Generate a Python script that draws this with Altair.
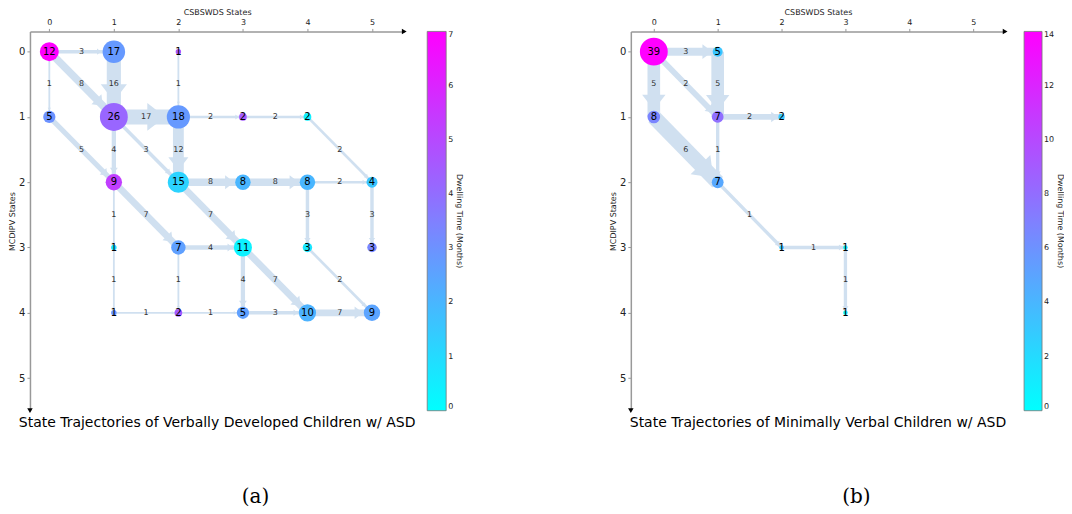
import math
import altair as alt
import pandas as pd

# ---------------- Panel (a): verbally developed ----------------
a_node_x = [0, 1, 2, 0, 1, 2, 3, 4, 1, 2, 3, 4, 5, 1, 2, 3, 4, 5, 1, 2, 3, 4, 5]
a_node_y = [0, 0, 0, 1, 1, 1, 1, 1, 2, 2, 2, 2, 2, 3, 3, 3, 3, 3, 4, 4, 4, 4, 4]
a_node_count = [12, 17, 1, 5, 26, 18, 2, 2, 9, 15, 8, 8, 4, 1, 7, 11, 3, 3, 1, 2, 5, 10, 9]
a_node_dwell = [7.0, 2.8, 4.6, 3.0, 4.2, 2.8, 4.5, 0.4, 5.3, 1.2, 2.0, 2.0, 1.6,
                0.85, 2.6, 0.35, 0.7, 3.3, 2.9, 4.5, 2.6, 2.1, 2.5]

a_edge_from_x = [0, 0, 0, 1, 2, 1, 2, 3, 4, 0, 1, 1, 2, 2, 3, 4, 1, 1, 2, 4, 5, 2, 1, 2, 3, 3, 4, 1, 2, 3, 4]
a_edge_from_y = [0, 0, 0, 0, 0, 1, 1, 1, 1, 1, 1, 1, 1, 2, 2, 2, 2, 2, 2, 2, 2, 3, 3, 3, 3, 3, 3, 4, 4, 4, 4]
a_edge_to_x = [1, 0, 1, 1, 2, 2, 3, 4, 5, 1, 1, 2, 2, 3, 4, 5, 1, 2, 3, 4, 5, 3, 1, 2, 3, 4, 5, 2, 3, 4, 5]
a_edge_to_y = [0, 1, 1, 1, 1, 1, 1, 1, 2, 2, 2, 2, 2, 2, 2, 2, 3, 3, 3, 3, 3, 3, 4, 4, 4, 4, 4, 4, 4, 4, 4]
a_edge_weight = [3, 1, 8, 16, 1, 17, 2, 2, 2, 5, 4, 3, 12, 8, 8, 2, 1, 7, 7, 3, 3, 4, 1, 1, 4, 7, 2, 1, 1, 3, 7]

# ---------------- Panel (b): minimally verbal ----------------
b_node_x = [0, 1, 0, 1, 2, 1, 2, 3, 3]
b_node_y = [0, 0, 1, 1, 1, 2, 3, 3, 4]
b_node_count = [39, 5, 8, 7, 2, 7, 1, 1, 1]
b_node_dwell = [14.0, 3.2, 6.7, 7.9, 3.0, 4.8, 3.0, 1.0, 1.0]

b_edge_from_x = [0, 0, 0, 1, 1, 0, 1, 1, 2, 3]
b_edge_from_y = [0, 0, 0, 0, 1, 1, 1, 2, 3, 3]
b_edge_to_x = [1, 0, 1, 1, 2, 1, 1, 2, 3, 3]
b_edge_to_y = [0, 1, 1, 1, 1, 2, 2, 3, 3, 4]
b_edge_weight = [3, 5, 2, 5, 2, 6, 1, 1, 1, 1]

TICKS = [0, 1, 2, 3, 4, 5]
EDGE_COLOR = "#d0e0f0"
FONT = "DejaVu Sans"
W, H = 375, 380
Y_DOM = [-0.31, 5.5]
MAX_NODE_AREA = 780
SW_MIN, SW_MAX = 1.0, 15.0
HEAD_PATH = "M-0.65,-1L0.65,0L-0.65,1Z"
IND = dict(color="independent", size="independent", strokeWidth="independent")


def build_frames(nx, ny, nc, nd, fx, fy, tx, ty, ew, xdom):
    nodes = pd.DataFrame({"x": nx, "y": ny, "count": nc, "dwell": nd})
    cmax = max(nc)
    wmax = max(ew)
    px = W / (xdom[1] - xdom[0])
    py = H / (Y_DOM[1] - Y_DOM[0])
    cnt = {(a, b): c for a, b, c in zip(nx, ny, nc)}
    rows = []
    for x1, y1, x2, y2, w in zip(fx, fy, tx, ty, ew):
        dxp = (x2 - x1) * px
        dyp = (y2 - y1) * py
        L = math.hypot(dxp, dyp)
        ux, uy = dxp / L, dyp / L
        sw = SW_MIN + (SW_MAX - SW_MIN) * w / wmax
        hw = 1.85 * sw
        hl = 1.2 * sw
        r = math.sqrt(MAX_NODE_AREA * cnt[(x2, y2)] / cmax / math.pi)
        d = r + hl / 2
        rows.append({
            "x1": x1, "y1": y1, "x2": x2, "y2": y2, "w": w,
            "hx": x2 - ux * d / px, "hy": y2 - uy * d / py,
            "ang": math.degrees(math.atan2(dyp, dxp)) % 360,
            "hs": hw * hw,
        })
    return nodes, pd.DataFrame(rows), cmax, wmax


def panel(nodes, edges, cmax, wmax, dmax, dstep, xdom, caption, leg_offset, leg_thick):
    xs = alt.Scale(domain=xdom, nice=False, zero=False)
    ys = alt.Scale(domain=Y_DOM, nice=False, zero=False, reverse=True)
    xaxis = alt.Axis(orient="top", values=TICKS, format="d", title="CSBSWDS States", grid=False,
                     labelFontSize=8, titleFontSize=8, titleFontWeight="normal",
                     domainColor="#999999", domainWidth=1.5, tickColor="#999999",
                     tickSize=3, labelPadding=2, titlePadding=2, labelColor="#222",
                     titleColor="#222", labelFlush=False)
    yaxis = alt.Axis(orient="left", values=TICKS, format="d", title="MCDIPV States", grid=False,
                     labelFontSize=10, titleFontSize=8, titleFontWeight="normal",
                     domainColor="#999999", domainWidth=1.5, tickColor="#999999",
                     tickSize=3, labelPadding=2, titlePadding=2, labelColor="#222",
                     titleColor="#222", labelFlush=False)

    be = alt.Chart(edges)
    rules = be.mark_rule(color=EDGE_COLOR, strokeCap="butt").encode(
        x=alt.X("x1:Q", scale=xs, axis=xaxis),
        y=alt.Y("y1:Q", scale=ys, axis=yaxis),
        x2="x2:Q", y2="y2:Q",
        strokeWidth=alt.StrokeWidth("w:Q", scale=alt.Scale(domain=[0, wmax], range=[SW_MIN, SW_MAX]),
                                    legend=None),
    )
    heads = be.mark_point(shape=HEAD_PATH, filled=True, color=EDGE_COLOR, opacity=1,
                          strokeWidth=0).encode(
        x=alt.X("hx:Q", scale=xs), y=alt.Y("hy:Q", scale=ys),
        angle=alt.Angle("ang:Q", scale=None),
        size=alt.Size("hs:Q", scale=None),
    )
    elabels = be.transform_calculate(
        mx="(datum.x1 + datum.x2) / 2", my="(datum.y1 + datum.y2) / 2"
    ).mark_text(fontSize=8, color="#333333", font=FONT).encode(
        x=alt.X("mx:Q", scale=xs), y=alt.Y("my:Q", scale=ys), text="w:Q")

    bn = alt.Chart(nodes)
    circles = bn.mark_circle(opacity=1).encode(
        x=alt.X("x:Q", scale=xs), y=alt.Y("y:Q", scale=ys),
        size=alt.Size("count:Q", scale=alt.Scale(domain=[0, cmax], range=[0, MAX_NODE_AREA]),
                      legend=None),
        color=alt.Color("dwell:Q",
                        scale=alt.Scale(domain=[0, dmax], range=["#00ffff", "#ff00ff"],
                                        interpolate="rgb"),
                        legend=alt.Legend(title="Dwelling Time (Months)", orient="right",
                                          direction="vertical", gradientLength=H,
                                          gradientThickness=leg_thick, offset=leg_offset,
                                          titleOrient="right",
                                          titleAnchor="middle", titleFontSize=8,
                                          titleFontWeight="normal", titleColor="#222",
                                          labelFontSize=8, labelColor="#222",
                                          values=list(range(0, dmax + 1, dstep)),
                                          gradientStrokeColor="#777777",
                                          gradientStrokeWidth=0.8, titlePadding=2,
                                          labelOffset=2)),
    )
    nlabels = bn.mark_text(fontSize=10, color="black", font=FONT).encode(
        x=alt.X("x:Q", scale=xs), y=alt.Y("y:Q", scale=ys), text="count:Q")

    one = alt.Chart(pd.DataFrame({"k": [0]}))
    arr_r = one.mark_point(shape="triangle-right", filled=True, color="black", size=30,
                           opacity=1).encode(x=alt.value(W), y=alt.value(0))
    arr_d = one.mark_point(shape="triangle-down", filled=True, color="black", size=30,
                           opacity=1).encode(x=alt.value(0), y=alt.value(H))

    return alt.layer(rules, heads, elabels, circles, nlabels, arr_r, arr_d).resolve_scale(
        size="independent"
    ).properties(
        width=W, height=H,
        title=alt.Title(caption, orient="bottom", anchor="middle", frame="group",
                        fontSize=14, fontWeight="normal", font=FONT, color="black",
                        offset=3),
    )


def sublabel(text):
    return alt.Chart(pd.DataFrame({"lab": [text]})).mark_text(
        font="DejaVu Serif", fontSize=20, color="black", align="center",
        baseline="middle").encode(text="lab:N", x=alt.value(226)).properties(
        width=240, height=20)


XA = [-0.30, 5.50]
XB = [-0.36, 5.50]
na, ea, cma, wma = build_frames(a_node_x, a_node_y, a_node_count, a_node_dwell,
                                a_edge_from_x, a_edge_from_y, a_edge_to_x, a_edge_to_y,
                                a_edge_weight, XA)
nb, eb, cmb, wmb = build_frames(b_node_x, b_node_y, b_node_count, b_node_dwell,
                                b_edge_from_x, b_edge_from_y, b_edge_to_x, b_edge_to_y,
                                b_edge_weight, XB)

pa = panel(na, ea, cma, wma, 7, 1, XA, "State Trajectories of Verbally Developed Children w/ ASD",
           23, 19)
pb = panel(nb, eb, cmb, wmb, 14, 2, XB, "State Trajectories of Minimally Verbal Children w/ ASD",
           19, 18)

col_a = alt.vconcat(pa, sublabel("(a)"), spacing=56).resolve_scale(**IND).resolve_legend(
    color="independent")
col_b = alt.vconcat(pb, sublabel("(b)"), spacing=56).resolve_scale(**IND).resolve_legend(
    color="independent")

chart = alt.hconcat(col_a, col_b, spacing=146).resolve_scale(**IND).resolve_legend(
    color="independent"
).properties(padding=0).configure(font=FONT).configure_view(stroke=None)

chart.save("out.html", embed_options={"renderer": "svg", "actions": False})
